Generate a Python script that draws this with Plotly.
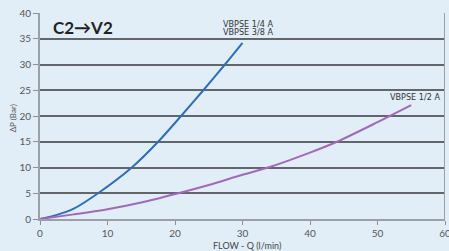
import plotly.graph_objects as go

blue_x = [0, 2.5, 5, 8.6, 13.6, 17.5, 20.9, 24.2, 27.4, 30]
blue_y = [0, 0.8, 2, 5, 10, 15, 20, 25, 30, 34.2]
purple_x = [0, 5, 10, 15, 20.5, 25, 30, 33.8, 40, 44, 50, 55]
purple_y = [0, 0.9, 1.9, 3.2, 5, 6.6, 8.6, 10, 12.9, 15, 18.8, 22.1]
x_ticks = [0, 10, 20, 30, 40, 50, 60]
y_ticks = [0, 5, 10, 15, 20, 25, 30, 35, 40]

bg = "#e1eef8"
lab_font = dict(size=9, color="#333", family="DejaVu Sans Condensed, Liberation Sans Narrow")
fig = go.Figure()
fig.add_trace(go.Scatter(x=blue_x, y=blue_y, mode="lines",
                         line=dict(color="#2e6cbf", width=2, shape="spline", smoothing=0.8), showlegend=False))
fig.add_trace(go.Scatter(x=purple_x, y=purple_y, mode="lines",
                         line=dict(color="#a268bb", width=2, shape="spline", smoothing=0.8), showlegend=False))

fig.update_layout(
    width=449, height=251,
    margin=dict(l=40, r=4, t=13, b=32, autoexpand=False),
    paper_bgcolor=bg, plot_bgcolor=bg,
    font=dict(family="Lato, DejaVu Sans", color="#555", size=10),
    xaxis=dict(range=[0, 60], tickvals=x_ticks, showgrid=False, zeroline=False, automargin=False,
               showline=True, linecolor="#9aa0a6", linewidth=2, mirror=False,
               ticks="outside", ticklen=4, tickcolor="#8a8f94", tickwidth=1,
               ticklabeloverflow="allow",
               tickfont=dict(size=10, color="#555")),
    yaxis=dict(range=[0, 40], tickvals=y_ticks, showgrid=True, gridcolor="#62666a", gridwidth=1.5,
               zeroline=False, showline=True, linecolor="#9aa0a6", linewidth=2, automargin=False,
               ticks="outside", ticklen=5, tickcolor="#8a8f94", tickwidth=1,
               ticklabeloverflow="allow",
               tickfont=dict(size=10, color="#555")),
    shapes=[dict(type="line", xref="x", yref="y", x0=60, x1=60, y0=0, y1=40,
                 line=dict(color="#9aa0a6", width=2))],
    annotations=[
        dict(text="FLOW - Q (l/min)", xref="paper", yref="paper", x=0.51, y=-0.127,
             xanchor="center", yanchor="middle", showarrow=False,
             font=dict(size=9, color="#444")),
        dict(text="ΔP (Bar)", xref="paper", yref="paper", x=-0.066, y=0.49,
             xanchor="center", yanchor="middle", showarrow=False, textangle=-90,
             font=dict(size=8, color="#555")),
        dict(text="<b>C2→V2</b>", xref="paper", yref="paper", x=0.028, y=0.93,
             xanchor="left", yanchor="middle", showarrow=False,
             font=dict(size=17, color="#222")),
        dict(text="VBPSE 1/4 A", xref="x", yref="paper", x=30.8, y=0.947,
             xanchor="center", yanchor="middle", showarrow=False, font=lab_font),
        dict(text="VBPSE 3/8 A", xref="x", yref="paper", x=30.8, y=0.906,
             xanchor="center", yanchor="middle", showarrow=False, font=lab_font),
        dict(text="VBPSE 1/2 A", xref="x", yref="y", x=59.6, y=23.7,
             xanchor="right", yanchor="middle", showarrow=False, font=lab_font),
    ],
)
fig.write_html("out.html", config={"displayModeBar": False},
               post_script="document.body.style.margin='0';document.body.style.padding='0';")
